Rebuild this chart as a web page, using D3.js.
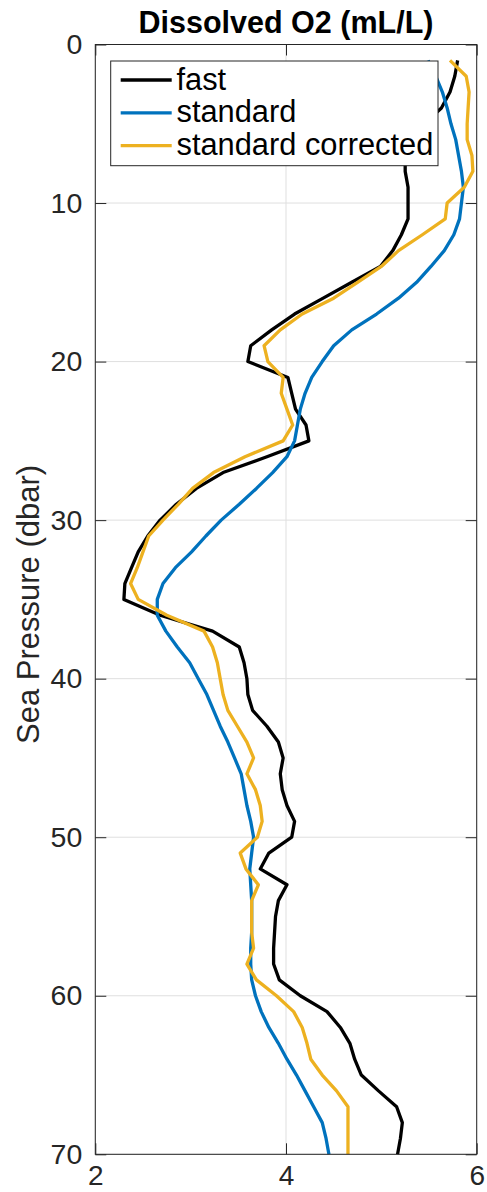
<!DOCTYPE html>
<html>
<head>
<meta charset="utf-8">
<script src="https://cdn.jsdelivr.net/npm/d3@7"></script>
<style>
  html, body { margin: 0; padding: 0; background: #fff; }
  svg { display: block; }
  text { font-family: "Liberation Sans", Arial, Helvetica, sans-serif; }
</style>
</head>
<body>
<svg id="chart" width="487" height="1192"></svg>
<script>
// Pressure levels (dbar) shared by every profile
const pressure = d3.range(1, 71);

// Dissolved oxygen (mL/L), one value per pressure level
const fast = [
  5.80, 5.77, 5.72, 5.63, 5.45, 5.32, 5.25, 5.25, 5.28, 5.28,
  5.28, 5.21, 5.12, 4.99, 4.69, 4.39, 4.09, 3.85, 3.63, 3.60,
  4.02, 4.06, 4.10, 4.21, 4.24, 3.80, 3.34, 3.06, 2.85, 2.68,
  2.55, 2.45, 2.38, 2.31, 2.30, 2.68, 3.23, 3.51, 3.56, 3.59,
  3.60, 3.65, 3.80, 3.92, 3.97, 3.94, 3.96, 4.01, 4.09, 4.06,
  3.82, 3.73, 4.01, 3.92, 3.89, 3.88, 3.87, 3.87, 3.93, 4.15,
  4.43, 4.57, 4.67, 4.72, 4.79, 4.97, 5.16, 5.22, 5.20, 5.17
];
const standard = [
  5.49, 5.57, 5.64, 5.69, 5.73, 5.78, 5.81, 5.84, 5.86, 5.84,
  5.82, 5.76, 5.66, 5.52, 5.37, 5.18, 4.95, 4.69, 4.50, 4.38,
  4.27, 4.20, 4.15, 4.12, 4.09, 4.01, 3.86, 3.69, 3.51, 3.32,
  3.16, 3.01, 2.84, 2.71, 2.65, 2.65, 2.74, 2.86, 2.99, 3.08,
  3.17, 3.24, 3.31, 3.39, 3.46, 3.53, 3.56, 3.59, 3.63, 3.66,
  3.64, 3.62, 3.63, 3.64, 3.64, 3.64, 3.63, 3.63, 3.64, 3.68,
  3.74, 3.82, 3.92, 4.01, 4.11, 4.20, 4.29, 4.38, 4.42, 4.45
];
const standardCorrected = [
  5.72, 5.89, 5.92, 5.91, 5.90, 5.90, 5.95, 5.96, 5.87, 5.69,
  5.67, 5.43, 5.18, 5.00, 4.75, 4.50, 4.17, 3.94, 3.77, 3.81,
  3.97, 3.95, 4.01, 4.07, 3.97, 3.57, 3.24, 3.02, 2.87, 2.71,
  2.56, 2.50, 2.44, 2.37, 2.45, 2.75, 3.14, 3.23, 3.28, 3.31,
  3.34, 3.39, 3.49, 3.59, 3.66, 3.59, 3.68, 3.73, 3.75, 3.70,
  3.52, 3.58, 3.71, 3.64, 3.64, 3.64, 3.66, 3.59, 3.69, 3.90,
  4.08, 4.17, 4.22, 4.26, 4.38, 4.53, 4.65, 4.65, 4.65, 4.65
];

const seriesNames = ["fast", "standard", "standard corrected"];
const seriesColors = ["#000000", "#0072BD", "#EDB120"];
const seriesValues = [fast, standard, standardCorrected];

const xTicks = [2, 4, 6];
const yTicks = [0, 10, 20, 30, 40, 50, 60, 70];

const titleText = "Dissolved O2 (mL/L)";
const yLabelText = "Sea Pressure (dbar)";

// Layout
const plot = { left: 95.3, right: 476.7, top: 44.5, bottom: 1154.3 };
const axisColor = "#262626";
const gridColor = "#dfdfdf";
const tickLen = 11;

const svg = d3.select("#chart");

const x = d3.scaleLinear().domain([2, 6]).range([plot.left, plot.right]);
const y = d3.scaleLinear().domain([0, 70]).range([plot.top, plot.bottom]);

// Grid lines
const grid = svg.append("g").attr("class", "grid");
grid.selectAll("line.gx").data(xTicks).join("line")
  .attr("x1", d => x(d)).attr("x2", d => x(d))
  .attr("y1", plot.top).attr("y2", plot.bottom)
  .attr("stroke", gridColor).attr("stroke-width", 1);
grid.selectAll("line.gy").data(yTicks).join("line")
  .attr("x1", plot.left).attr("x2", plot.right)
  .attr("y1", d => y(d)).attr("y2", d => y(d))
  .attr("stroke", gridColor).attr("stroke-width", 1);

// Profiles
const line = d3.line()
  .x(d => x(d[1]))
  .y(d => y(d[0]));

const profiles = svg.append("g").attr("class", "profiles");
seriesValues.forEach((vals, i) => {
  profiles.append("path")
    .datum(pressure.map((p, j) => [p, vals[j]]))
    .attr("d", line)
    .attr("fill", "none")
    .attr("stroke", seriesColors[i])
    .attr("stroke-width", 3.3)
    .attr("stroke-linejoin", "round")
    .attr("stroke-linecap", "butt");
});

// Axes (inward ticks on all four sides)
function styleAxis(g, fontSize) {
  g.select(".domain").remove();
  g.selectAll(".tick line").attr("stroke", axisColor).attr("stroke-width", 1);
  g.selectAll(".tick text")
    .attr("fill", axisColor)
    .style("font-size", fontSize + "px")
    .style("font-family", '"Liberation Sans", Arial, Helvetica, sans-serif');
}

svg.append("g")
  .attr("transform", `translate(${plot.left},0)`)
  .call(d3.axisLeft(y).tickValues(yTicks).tickFormat(d3.format("d"))
    .tickSizeInner(-tickLen).tickSizeOuter(0).tickPadding(13))
  .call(g => styleAxis(g, 28.5));

svg.append("g")
  .attr("transform", `translate(0,${plot.bottom})`)
  .call(d3.axisBottom(x).tickValues(xTicks).tickFormat(d3.format("d"))
    .tickSizeInner(-tickLen).tickSizeOuter(0).tickPadding(11))
  .call(g => styleAxis(g, 28));

svg.append("g")
  .attr("transform", `translate(${plot.right},0)`)
  .call(d3.axisRight(y).tickValues(yTicks).tickFormat("")
    .tickSizeInner(-tickLen).tickSizeOuter(0))
  .call(g => styleAxis(g, 1));

svg.append("g")
  .attr("transform", `translate(0,${plot.top})`)
  .call(d3.axisTop(x).tickValues(xTicks).tickFormat("")
    .tickSizeInner(-tickLen).tickSizeOuter(0))
  .call(g => styleAxis(g, 1));

// Axes box
svg.append("rect")
  .attr("x", plot.left).attr("y", plot.top)
  .attr("width", plot.right - plot.left).attr("height", plot.bottom - plot.top)
  .attr("fill", "none").attr("stroke", axisColor).attr("stroke-width", 1);

// Title
svg.append("text")
  .attr("x", (plot.left + plot.right) / 2)
  .attr("y", 33)
  .attr("text-anchor", "middle")
  .attr("fill", "#000")
  .style("font-size", "30.5px")
  .style("font-weight", "bold")
  .text(titleText);

// Y axis label
svg.append("text")
  .attr("transform", `translate(39,${(plot.top + plot.bottom) / 2 + 5}) rotate(-90)`)
  .attr("text-anchor", "middle")
  .attr("fill", axisColor)
  .style("font-size", "31px")
  .text(yLabelText);

// Legend
const legend = { x: 110.7, y: 61, w: 327.3, h: 104.7, row0: 80, rowStep: 32.8 };
const lg = svg.append("g").attr("class", "legend");
lg.append("rect")
  .attr("x", legend.x).attr("y", legend.y)
  .attr("width", legend.w).attr("height", legend.h)
  .attr("fill", "#fff").attr("stroke", axisColor).attr("stroke-width", 1);
const rows = lg.selectAll("g.row").data(seriesNames).join("g")
  .attr("transform", (d, i) => `translate(0,${legend.row0 + i * legend.rowStep})`);
rows.append("line")
  .attr("x1", 120.7).attr("x2", 171.7)
  .attr("y1", 0).attr("y2", 0)
  .attr("stroke", (d, i) => seriesColors[i])
  .attr("stroke-width", 3.3);
rows.append("text")
  .attr("x", 176.5).attr("y", 9.5)
  .attr("fill", "#000")
  .style("font-size", "30.8px")
  .text(d => d);
</script>
</body>
</html>
